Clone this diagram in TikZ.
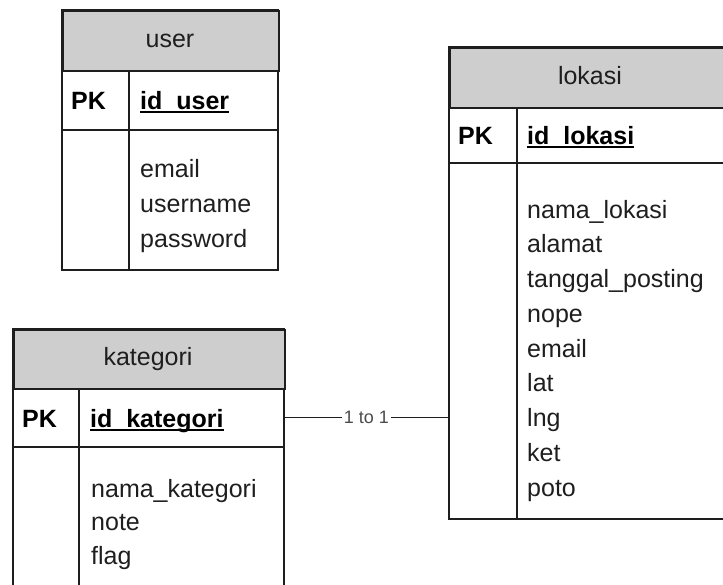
\documentclass[tikz,border=0pt]{standalone}
\usepackage{fontspec}
\setmainfont{Liberation Sans}
\definecolor{headgray}{HTML}{CECECE}
\definecolor{inkgray}{HTML}{1E1E1E}
\tikzset{
  frame/.style={draw=inkgray, line width=1.6pt},
  headbox/.style={frame, fill=headgray, anchor=north west, inner sep=0pt},
  titletxt/.style={font=\fontsize{25}{30}\selectfont, text=inkgray, anchor=base, inner sep=0pt},
  pktxt/.style={font=\fontsize{25}{30}\selectfont\bfseries, text=black, anchor=base west, inner sep=0pt},
  fieldtxt/.style={font=\fontsize{25}{30}\selectfont, text=inkgray, anchor=base west, inner sep=0pt},
  uline/.style={draw=black, line width=1.3pt},
  relline/.style={draw=inkgray, line width=0.9pt},
  reltxt/.style={font=\fontsize{18}{20}\selectfont, text=inkgray!80, fill=white, inner sep=2pt}
}
\begin{document}
\begin{tikzpicture}[x=1pt, y=-1pt]
\useasboundingbox (0,0) rectangle (723,584);
\clip (0,0) rectangle (723,584);

% ---------- user ----------
\path[frame] (62,10) rectangle (278,270);
\node[headbox, minimum width=216, minimum height=60] (userhead) at (62,10) {};
\node[titletxt] (usertitle) at (170,47) {user};
\draw[frame] (62,130) -- (278,130);
\draw[frame] (129,70) -- (129,270);
\node[pktxt] (userpk) at (71,109) {PK};
\node[pktxt] (userid) at (140,109) {id\_user};
\draw[uline] ([yshift=-3]userid.base west) -- ([yshift=-3]userid.base east);
\node[fieldtxt] (uf1) at (140,177) {email};
\node[fieldtxt] (uf2) at (140,212) {username};
\node[fieldtxt] (uf3) at (140,247) {password};

% ---------- lokasi ----------
\path[frame] (449,47) rectangle (731,519);
\node[headbox, minimum width=282, minimum height=60] (lokhead) at (449,47) {};
\node[titletxt] (loktitle) at (590,84) {lokasi};
\draw[frame] (449,163) -- (731,163);
\draw[frame] (517,107) -- (517,519);
\node[pktxt] (lokpk) at (458,144) {PK};
\node[pktxt] (lokid) at (527,144) {id\_lokasi};
\draw[uline] ([yshift=-3]lokid.base west) -- ([yshift=-3]lokid.base east);
\node[fieldtxt] (lf1) at (527,218) {nama\_lokasi};
\node[fieldtxt] (lf2) at (527,252.75) {alamat};
\node[fieldtxt] (lf3) at (527,287.5) {tanggal\_posting};
\node[fieldtxt] (lf4) at (527,322.25) {nope};
\node[fieldtxt] (lf5) at (527,357) {email};
\node[fieldtxt] (lf6) at (527,391.75) {lat};
\node[fieldtxt] (lf7) at (527,426.5) {lng};
\node[fieldtxt] (lf8) at (527,461.25) {ket};
\node[fieldtxt] (lf9) at (527,496) {poto};

% ---------- kategori ----------
\path[frame] (13,329) rectangle (284,600);
\node[headbox, minimum width=271, minimum height=59] (kathead) at (13,329) {};
\node[titletxt] (kattitle) at (148,365) {kategori};
\draw[frame] (13,447) -- (284,447);
\draw[frame] (79,388) -- (79,600);
\node[pktxt] (katpk) at (22,427) {PK};
\node[pktxt] (katid) at (90,427) {id\_kategori};
\draw[uline] ([yshift=-3]katid.base west) -- ([yshift=-3]katid.base east);
\node[fieldtxt] (kf1) at (91,497) {nama\_kategori};
\node[fieldtxt] (kf2) at (91,530) {note};
\node[fieldtxt] (kf3) at (91,564) {flag};

% ---------- relation ----------
\coordinate (katport) at (284,417);
\coordinate (lokport) at (449,417);
\draw[relline] (katport) -- node[reltxt] (rellabel) {1 to 1} (lokport);
\end{tikzpicture}
\end{document}
